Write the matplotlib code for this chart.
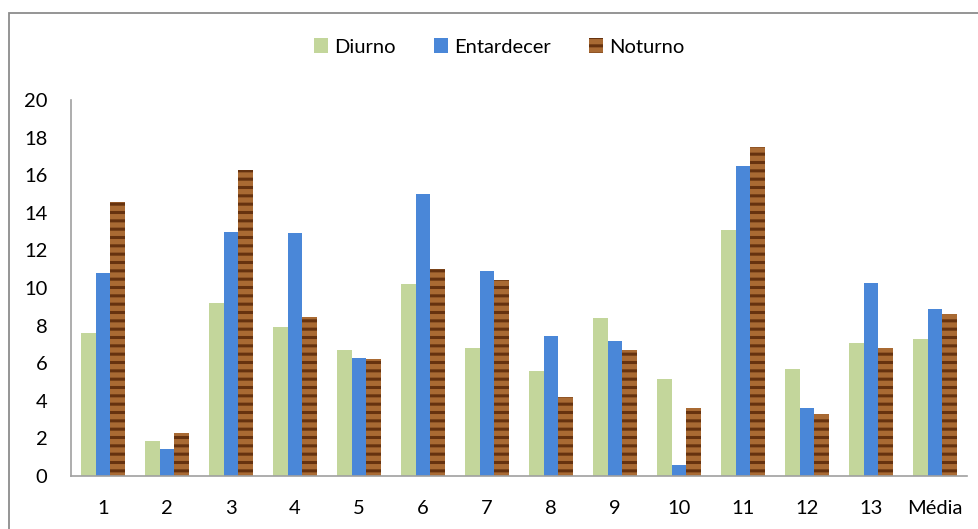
import matplotlib
matplotlib.use("Agg")
import matplotlib.pyplot as plt
import numpy as np
from matplotlib.patches import Rectangle

categories = ["1", "2", "3", "4", "5", "6", "7", "8", "9", "10", "11", "12", "13", "Média"]
diurno = [7.6, 1.85, 9.2, 7.9, 6.7, 10.2, 6.8, 5.6, 8.4, 5.15, 13.1, 5.7, 7.1, 7.3]
entardecer = [10.8, 1.45, 13.0, 12.9, 6.3, 15.0, 10.9, 7.45, 7.2, 0.6, 16.5, 3.6, 10.25, 8.9]
noturno = [14.6, 2.3, 16.3, 8.45, 6.25, 11.0, 10.4, 4.2, 6.7, 3.6, 17.5, 3.3, 6.8, 8.6]
yticks = [0, 2, 4, 6, 8, 10, 12, 14, 16, 18, 20]

plt.rcParams['font.family'] = ['Lato', 'DejaVu Sans']
plt.rcParams['hatch.linewidth'] = 2.2

W, H = 979, 529
fig = plt.figure(figsize=(W / 100, H / 100), dpi=100)
fig.patch.set_facecolor('white')

# outer border (only top and left visible in the crop)
fig.patches.append(Rectangle((9 / W, -0.1), 1.2, 1 - 13 / H + 0.1, transform=fig.transFigure,
                             fill=False, edgecolor='#8c8c8c', linewidth=1.3))

ax = fig.add_axes([71 / W, 53 / H, (967 - 71) / W, (476 - 100) / H])
x = np.arange(len(categories))
bw = 0.225
b1 = ax.bar(x - bw, diurno, bw, color='#c3d69b', linewidth=0, label='Diurno')
b2 = ax.bar(x, entardecer, bw, color='#4a87d8', linewidth=0, label='Entardecer')
b3 = ax.bar(x + bw, noturno, bw, color='#a96a33', edgecolor='#66320f', hatch='--',
            linewidth=0, label='Noturno')

ax.set_xlim(-0.5, len(categories) - 0.5)
ax.set_ylim(0, 20)
ax.set_yticks(yticks)
ax.set_yticklabels([str(v) for v in yticks], fontsize=14.5)
ax.set_xticks(x)
ax.set_xticklabels(categories, fontsize=14.5)
ax.tick_params(axis='both', length=0)
ax.tick_params(axis='y', pad=17)
ax.tick_params(axis='x', pad=17)
for s in ['top', 'right']:
    ax.spines[s].set_visible(False)
for s in ['left', 'bottom']:
    ax.spines[s].set_color('#a0a0a0')
    ax.spines[s].set_linewidth(1.2)

leg = fig.legend(handles=[b1, b2, b3], labels=['Diurno', 'Entardecer', 'Noturno'],
                 loc='center', bbox_to_anchor=(0.51, 1 - 47 / H), ncol=3, frameon=False,
                 fontsize=14.5, handlelength=0.7, handleheight=0.7, handletextpad=0.3,
                 columnspacing=1.9)

fig.savefig('out.png', dpi=100)
